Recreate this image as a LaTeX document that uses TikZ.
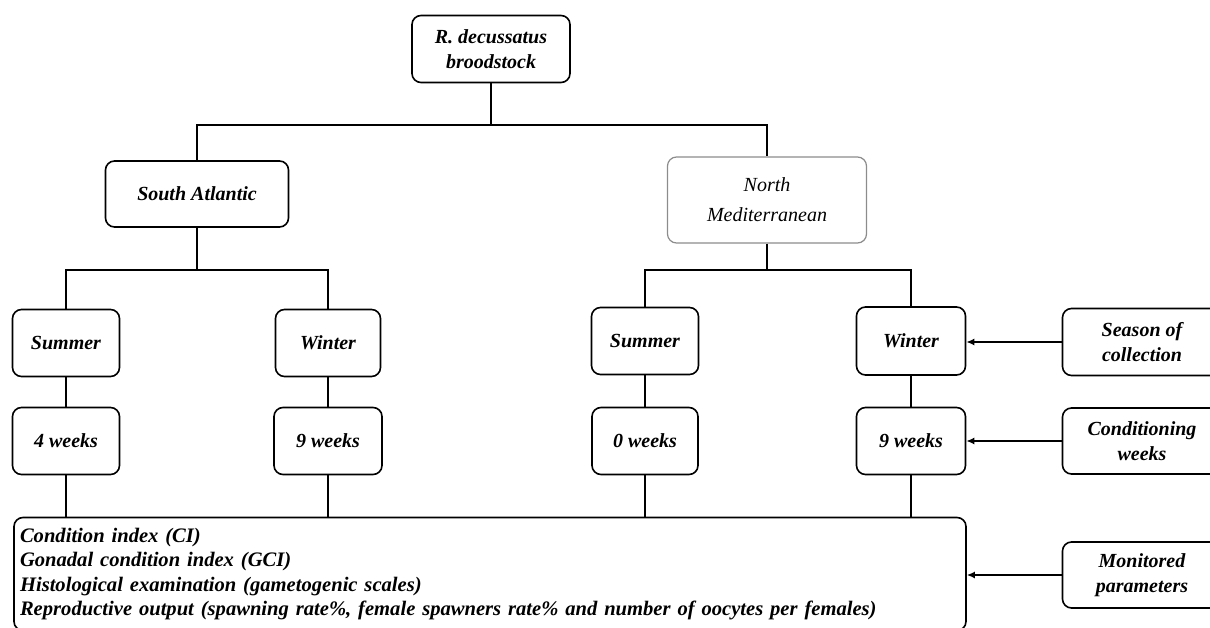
\documentclass[tikz,border=0pt]{standalone}
\usepackage{fontspec}
\setmainfont{Liberation Serif}
\usetikzlibrary{arrows.meta}
\tikzset{
  box/.style={draw, rounded corners=9pt, line width=1.6pt, align=center, inner sep=0pt,
    font=\fontsize{20}{25}\selectfont\bfseries\itshape},
  graybox/.style={box, draw=black!45, line width=1.2pt, font=\fontsize{20}{30}\selectfont\itshape},
  conn/.style={line width=1.6pt},
  arr/.style={line width=1.6pt, -{Latex[length=8pt,width=7pt]}},
}
\begin{document}
\begin{tikzpicture}[x=1pt,y=-1pt]
\useasboundingbox (0,0) rectangle (1210,628);
% nodes
\node[box, minimum width=158pt, minimum height=67pt] (top) at (491,49) {R. decussatus\\broodstock};
\node[box, minimum width=183pt, minimum height=66pt] (sa) at (197,194) {South Atlantic};
\node[graybox, minimum width=199pt, minimum height=86pt] (nm) at (767,200) {North\\Mediterranean};
\node[box, minimum width=107pt, minimum height=67pt] (s1) at (66,343) {Summer};
\node[box, minimum width=105pt, minimum height=67pt] (w1) at (328,343) {Winter};
\node[box, minimum width=107pt, minimum height=67pt] (s2) at (645,341) {Summer};
\node[box, minimum width=109pt, minimum height=68pt] (w2) at (911,341) {Winter};
\node[box, minimum width=107pt, minimum height=67pt] (k1) at (66,441) {4 weeks};
\node[box, minimum width=108pt, minimum height=67pt] (k2) at (328,441) {9 weeks};
\node[box, minimum width=106pt, minimum height=67pt] (k3) at (645,441) {0 weeks};
\node[box, minimum width=109pt, minimum height=67pt] (k4) at (911,441) {9 weeks};
\node[box, minimum width=159pt, minimum height=67pt] (season) at (1142,342) {Season of\\collection};
\node[box, minimum width=159pt, minimum height=66pt] (cond) at (1142,441) {Conditioning\\weeks};
\node[box, minimum width=159pt, minimum height=66pt] (mon) at (1142,575) {Monitored\\parameters};
\node[box, minimum width=952pt, minimum height=113pt, align=left, text width=940pt,
  font=\fontsize{20.6}{24.3}\selectfont\bfseries\itshape] (big) at (490,574)
  {Condition index (CI)\\Gonadal condition index (GCI)\\Histological examination (gametogenic scales)\\Reproductive output (spawning rate\%, female spawners rate\% and number of oocytes per females)};
% junction levels
\coordinate (y1) at (0,125);
\coordinate (y2) at (0,270);
% tree connectors
\draw[conn] (top.south) -- (top.south |- y1);
\draw[conn] (sa.north) -- (sa.north |- y1) -- (nm.north |- y1) -- (nm.north);
\draw[conn] (sa.south) -- (sa.south |- y2);
\draw[conn] (s1.north) -- (s1.north |- y2) -- (w1.north |- y2) -- (w1.north);
\draw[conn] (nm.south) -- (nm.south |- y2);
\draw[conn] (s2.north) -- (s2.north |- y2) -- (w2.north |- y2) -- (w2.north);
\draw[conn] (s1.south) -- (k1.north);
\draw[conn] (w1.south) -- (k2.north);
\draw[conn] (s2.south) -- (k3.north);
\draw[conn] (w2.south) -- (k4.north);
\draw[conn] (k1.south) -- (k1.south |- big.north);
\draw[conn] (k2.south) -- (k2.south |- big.north);
\draw[conn] (k3.south) -- (k3.south |- big.north);
\draw[conn] (k4.south) -- (k4.south |- big.north);
% side arrows
\draw[arr] (season.west) -- (season.west -| w2.east);
\draw[arr] (cond.west) -- (cond.west -| k4.east);
\draw[arr] (mon.west) -- (mon.west -| big.east);
\end{tikzpicture}
\end{document}
